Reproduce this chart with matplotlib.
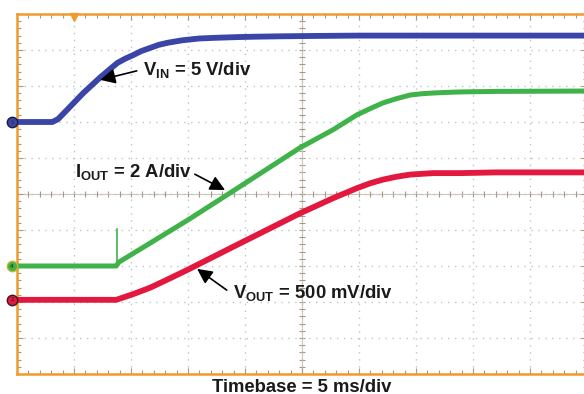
import matplotlib

matplotlib.use("Agg")

import matplotlib.pyplot as plt
import numpy as np
from matplotlib.ticker import MultipleLocator

# time axis in ms, 5 ms/div, 10 divisions
TIME_SPAN_MS = 50
MS_PER_DIV = 5

# V_IN trace (volts), 5 V/div, ground marker at +2 div
VIN_T = [0, 3.1, 3.6, 4.4, 5.8, 7.3, 8.8, 9.5, 10.2, 10.9, 11.7, 12.4, 13.2, 14.5,
         16.0, 17.5, 19.5, 21.0, 23.0, 26.0, 30.0, 50.0]
VIN_V = [0, 0, 0.4, 1.7, 4.0, 6.2, 8.2, 8.8, 9.3, 9.85, 10.3, 10.7, 11.0, 11.35,
         11.6, 11.7, 11.8, 11.85, 11.9, 11.95, 12.0, 12.0]
VIN_SCALE = 5.0
VIN_OFFSET = 2.0

# I_OUT trace (amps), 2 A/div, ground marker at -2 div
IOUT_T = [0, 8.7, 8.95, 11.7, 15.0, 18.4, 24.8, 27.7, 29.8, 31.0, 32.1, 33.3, 34.5,
          35.5, 36.5, 37.5, 38.9, 42.0, 50.0]
IOUT_A = [0, 0, 0.22, 1.28, 2.56, 3.94, 6.56, 7.56, 8.39, 8.75, 9.06, 9.30, 9.50,
          9.57, 9.61, 9.64, 9.67, 9.70, 9.72]
IOUT_SPIKE_T = [8.75, 8.75]
IOUT_SPIKE_A = [0, 2.05]
IOUT_SCALE = 2.0
IOUT_OFFSET = -2.0

# V_OUT trace (volts), 500 mV/div, ground marker at -2.94 div
VOUT_T = [0, 8.7, 10.2, 11.7, 13.3, 15.0, 19.0, 24.8, 27.7, 29.8, 31.0, 32.1, 33.3,
          34.5, 35.5, 36.5, 38.9, 42.0, 50.0]
VOUT_V = [0, 0, 0.08, 0.17, 0.29, 0.42, 0.74, 1.20, 1.41, 1.55, 1.62, 1.67, 1.71,
          1.74, 1.75, 1.76, 1.76, 1.77, 1.77]
VOUT_SCALE = 0.5
VOUT_OFFSET = -2.94

TRIGGER_T = 5.0

plt.rcParams["font.family"] = ["Liberation Sans", "DejaVu Sans"]
plt.rcParams["mathtext.fontset"] = "custom"
plt.rcParams["mathtext.bf"] = "Liberation Sans:bold"
plt.rcParams["mathtext.rm"] = "Liberation Sans:bold"

ORANGE = "#f29a2e"
TICK = "#a8987e"
GRID = "#b9c3cb"
BLUE = "#3b45a8"
GREEN = "#3fb34a"
RED = "#e3183f"


def to_div(values, scale, offset):
    return np.asarray(values) / scale + offset


fig = plt.figure(figsize=(5.84, 3.94), dpi=100)
ax = fig.add_axes([17 / 584, 20 / 394, 570 / 584, 360 / 394])
ax.set_xlim(0, TIME_SPAN_MS)
ax.set_ylim(-5, 5)

# graticule
ax.xaxis.set_major_locator(MultipleLocator(MS_PER_DIV))
ax.xaxis.set_minor_locator(MultipleLocator(MS_PER_DIV / 5))
ax.yaxis.set_major_locator(MultipleLocator(1))
ax.yaxis.set_minor_locator(MultipleLocator(0.2))
ax.tick_params(which="both", direction="in", top=True, right=True, color=TICK,
               labelbottom=False, labelleft=False, width=0.8)
ax.tick_params(which="major", length=4)
ax.tick_params(which="minor", length=3)
ax.grid(which="major", color=GRID, linestyle=(0, (1, 4)), linewidth=1.0)

for side in ["left", "top", "bottom", "right"]:
    ax.spines[side].set_color(ORANGE)
    ax.spines[side].set_linewidth(1.8)

ax.axhline(0, color="#cfc6b8", linewidth=0.8, zorder=1)
ax.axvline(TIME_SPAN_MS / 2, color="#cfc6b8", linewidth=0.8, zorder=1)
minor_t = np.arange(0, TIME_SPAN_MS + 0.1, MS_PER_DIV / 5)
minor_y = np.arange(-5, 5.01, 0.2)
ax.plot(minor_t, np.zeros_like(minor_t), linestyle="none", marker="|",
        markersize=4.5, markeredgewidth=0.8, color=TICK, zorder=1)
ax.plot(np.full_like(minor_y, TIME_SPAN_MS / 2), minor_y, linestyle="none",
        marker="_", markersize=4.5, markeredgewidth=0.8, color=TICK, zorder=1)

# traces
ax.plot(VIN_T, to_div(VIN_V, VIN_SCALE, VIN_OFFSET), color=BLUE, linewidth=4.2,
        solid_capstyle="butt", solid_joinstyle="round", zorder=3)
ax.plot(IOUT_T, to_div(IOUT_A, IOUT_SCALE, IOUT_OFFSET), color=GREEN, linewidth=3.6,
        solid_capstyle="butt", solid_joinstyle="round", zorder=3)
ax.plot(IOUT_SPIKE_T, to_div(IOUT_SPIKE_A, IOUT_SCALE, IOUT_OFFSET), color=GREEN,
        linewidth=1.2, zorder=3)
ax.plot(VOUT_T, to_div(VOUT_V, VOUT_SCALE, VOUT_OFFSET), color=RED, linewidth=4.2,
        solid_capstyle="butt", solid_joinstyle="round", zorder=3)

# channel ground markers
marker_t = -0.44
for offset, face, edge, label in [
    (VIN_OFFSET, BLUE, "#1c1c40", "1"),
    (IOUT_OFFSET, GREEN, "#c8b830", "4"),
    (VOUT_OFFSET, RED, "#3a1a20", "2"),
]:
    ax.plot(marker_t, offset, marker="o", markersize=7.5, markerfacecolor=face,
            markeredgecolor=edge, markeredgewidth=1.0, clip_on=False, zorder=5)
    ax.text(marker_t, offset, label, fontsize=4.5, color="#202020", ha="center",
            va="center", clip_on=False, zorder=6)

# trigger position marker
ax.plot(TRIGGER_T, 4.93, marker="v", markersize=6, color=ORANGE, clip_on=False, zorder=5)

# annotations
arrow = dict(arrowstyle="-|>,head_length=0.9,head_width=0.45", color="black",
             linewidth=1.2, shrinkA=0, shrinkB=0)
label_kw = dict(fontsize=13.3, fontweight="bold", color="#1a1a1a", va="baseline", ha="left")

ax.text(11.05, 3.31, r"$\mathbf{V}_{\mathbf{IN}}$ = 5 V/div", **label_kw)
ax.annotate("", xy=(7.3, 3.17), xytext=(10.5, 3.42), arrowprops=arrow)

ax.text(5.1, 0.47, r"$\mathbf{I}_{\mathbf{OUT}}$ = 2 A/div", **label_kw)
ax.annotate("", xy=(18.25, 0.11), xytext=(15.6, 0.55), arrowprops=arrow)

ax.text(18.95, -2.89, r"$\mathbf{V}_{\mathbf{OUT}}$ = 500 mV/div", **label_kw)
ax.annotate("", xy=(15.8, -2.08), xytext=(18.4, -2.67), arrowprops=arrow)

fig.text(302 / 584, 7 / 394, "Timebase = 5 ms/div", fontsize=13.3, fontweight="bold",
         color="#1a1a1a", ha="center", va="center")

fig.savefig("out.png", dpi=100)
plt.close(fig)
